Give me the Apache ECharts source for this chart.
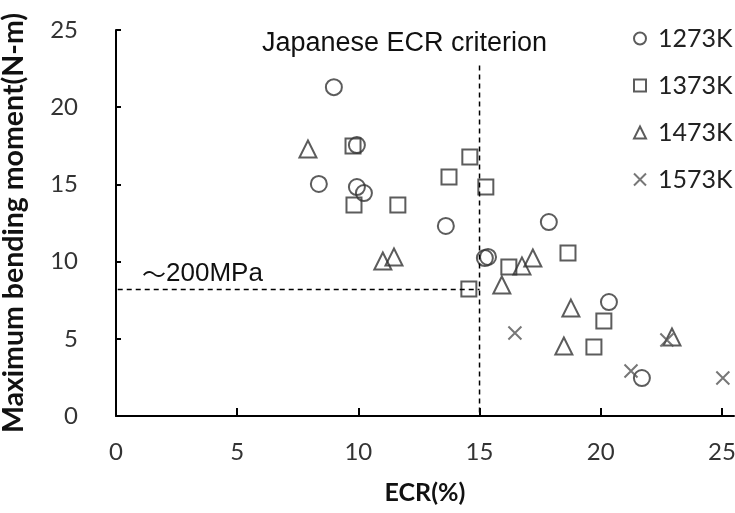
<!DOCTYPE html>
<html>
<head>
<meta charset="utf-8">
<script src="https://cdn.jsdelivr.net/npm/echarts@6/dist/echarts.min.js"></script>
<style>
html,body{margin:0;padding:0;background:#fff;}
#chart{width:735px;height:513px;}
</style>
</head>
<body>
<div id="chart"></div>
<script>
const xTicks = [0, 5, 10, 15, 20, 25];
const yTicks = [0, 5, 10, 15, 20, 25];
const seriesNames = ['1273K', '1373K', '1473K', '1573K'];

const data1273 = [[8.99,21.3],[9.94,17.55],[8.37,15.03],[9.94,14.83],[10.23,14.44],[13.61,12.31],[15.22,10.23],[15.35,10.3],[17.86,12.56],[20.34,7.38],[21.7,2.46]];
const data1373 = [[9.78,17.49],[9.82,13.67],[11.63,13.67],[13.74,15.48],[14.6,16.77],[15.26,14.83],[14.56,8.23],[16.21,9.65],[18.65,10.56],[20.13,6.15],[19.72,4.47]];
const data1473 = [[7.92,17.29],[11.01,10.04],[11.47,10.3],[15.92,8.48],[16.75,9.72],[17.2,10.23],[18.77,6.99],[18.48,4.53],[22.94,5.12]];
const data1573 = [[16.46,5.38],[22.73,4.92],[21.25,2.91],[25.04,2.46]];

const criterionX = [[15, 22.7], [15, 0]];
const stressY = [[-0.3, 8.2], [15, 8.2]];

const chart = echarts.init(document.getElementById('chart'), null, {renderer: 'canvas'});
const ink = '#333';
const txt = '#333';
const mk = (name, symbol, size, data, color) => ({
  name, type: 'scatter', symbol, symbolSize: size, data,
  itemStyle: {color: 'rgba(255,255,255,0)', borderColor: color || ink, borderWidth: 2},
  emphasis: {disabled: true}
});
chart.setOption({
  animation: false,
  backgroundColor: '#fff',
  grid: {left: 116, right: 1, top: 30, bottom: 97, containLabel: false, outerBoundsMode: 'none'},
  legend: {
    data: seriesNames, orient: 'vertical', left: 628, top: 21,
    itemWidth: 12, itemHeight: 12, itemGap: 22,
    textStyle: {fontFamily: 'Lato', fontSize: 25, color: '#222', padding: [0, 0, 0, 7]}
  },
  xAxis: {
    type: 'value', min: 0, max: 25.5,
    name: 'ECR(%)', nameLocation: 'middle', nameGap: 64,
    nameTextStyle: {fontFamily: 'Lato', fontSize: 25, fontWeight: 'bold', color: '#111'},
    axisLine: {show: true, lineStyle: {color: '#000', width: 2}},
    axisTick: {show: true, inside: true, length: 8, customValues: xTicks, lineStyle: {color: '#000', width: 2}},
    axisLabel: {customValues: xTicks, fontFamily: 'Lato', fontSize: 24, color: txt, margin: 24},
    splitLine: {show: false}
  },
  yAxis: {
    type: 'value', min: 0, max: 25, interval: 5,
    name: 'Maximum bending moment(N-m)', nameLocation: 'middle', nameGap: 88,
    nameTextStyle: {fontFamily: 'Lato', fontSize: 28.5, fontWeight: 'bold', color: '#111'},
    axisLine: {show: true, lineStyle: {color: '#000', width: 2}},
    axisTick: {show: true, inside: true, length: 5, customValues: yTicks, lineStyle: {color: '#000', width: 2}},
    axisLabel: {customValues: yTicks, fontFamily: 'Lato', fontSize: 24, color: txt, margin: 38},
    splitLine: {show: false}
  },
  graphic: [
    {type: 'text', left: 262, top: 30, style: {text: 'Japanese ECR criterion', font: '27px "Liberation Sans"', fill: '#111'}},
    {type: 'text', left: 142, top: 261, style: {
      text: '{t|～}{n|200MPa}',
      rich: {
        t: {fontFamily: 'Noto Sans CJK JP', fontSize: 24, fill: '#111', color: '#111'},
        n: {fontFamily: 'Liberation Sans', fontSize: 26, fill: '#111', color: '#111'}
      }
    }}
  ],
  series: [
    {type: 'line', data: criterionX, symbol: 'none', silent: true, clip: false, lineStyle: {color: '#000', width: 1.5, type: [5, 4]}},
    {type: 'line', data: stressY, symbol: 'none', silent: true, clip: false, lineStyle: {color: '#000', width: 1.5, type: [5, 4]}},
    mk('1273K', 'circle', 16, data1273),
    mk('1373K', 'rect', 15, data1373),
    mk('1473K', 'triangle', 17, data1473),
    mk('1573K', 'path://M0,0L10,10M10,0L0,10', 13, data1573, '#555')
  ]
});
</script>
</body>
</html>
